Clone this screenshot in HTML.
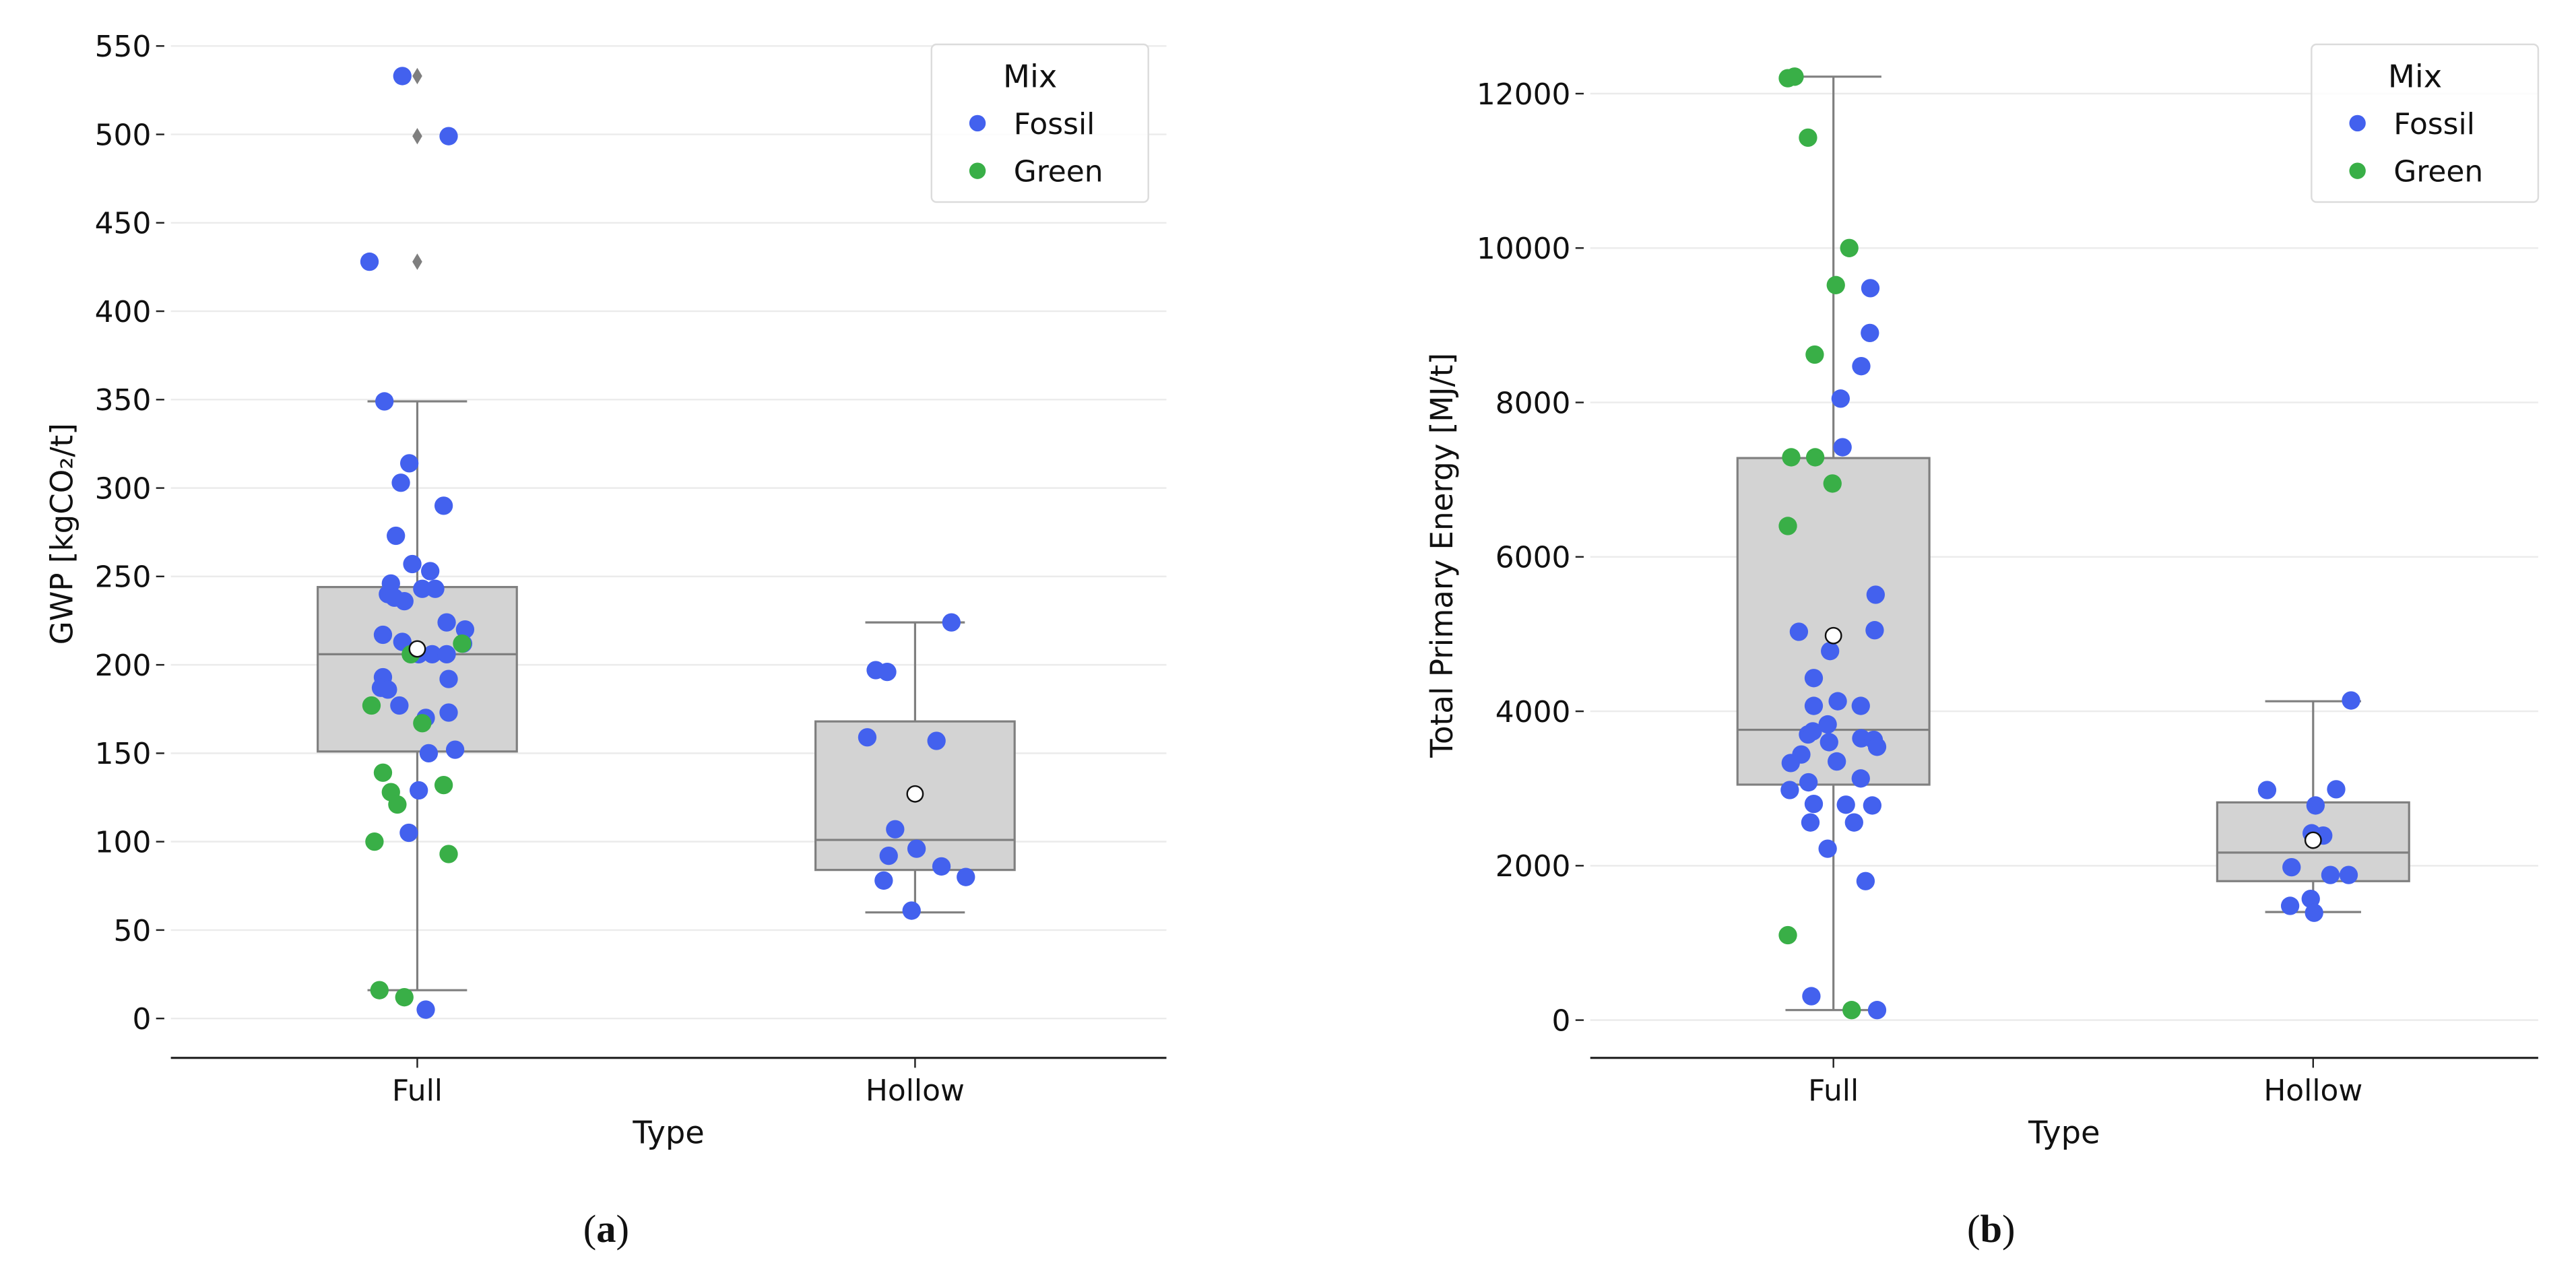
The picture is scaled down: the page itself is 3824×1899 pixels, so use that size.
<!DOCTYPE html>
<html><head><meta charset="utf-8">
<style>
html,body{margin:0;padding:0;background:#fff;}
svg{display:block;}
text{font-family:"DejaVu Sans","Liberation Sans",sans-serif;fill:#111;}
</style></head>
<body>
<svg id="fig" width="3824" height="1899" viewBox="0 0 1568 778.6" preserveAspectRatio="none" xmlns="http://www.w3.org/2000/svg"></svg>
<script>
// ---------- Data ----------
const categories = ["Full", "Hollow"];
// Panel (a) GWP
const gwpTicks = [0,50,100,150,200,250,300,350,400,450,500,550];
const gwpBox = [ {q1:151,q3:244,med:206,lo:16,hi:349,mean:209}, {q1:84,q3:168,med:101,lo:60,hi:224,mean:127} ];
const gwpOutliers = [428,499,533];
const gwpFullFossil = [533,499,428,349,314,303,290,273,257,253,246,240,238,236,243,243,217,220,213,212,224,206,206,206,193,192,187,186,177,173,170,150,152,129,105,5];
const gwpFullFossilJit = [-0.03,0.063,-0.096,-0.066,-0.016,-0.033,0.053,-0.043,-0.01,0.026,-0.053,-0.059,-0.046,-0.026,0.01,0.036,-0.069,0.096,-0.03,0.092,0.059,0.03,0.059,0.003,-0.069,0.063,-0.073,-0.059,-0.036,0.063,0.017,0.023,0.076,0.003,-0.017,0.017];
const gwpFullGreen = [206,212,177,167,139,128,121,132,100,93,16,12];
const gwpFullGreenJit = [-0.013,0.09,-0.092,0.01,-0.069,-0.053,-0.04,0.053,-0.086,0.063,-0.076,-0.026];
const gwpHollowFossil = [197,196,159,157,107,92,96,86,80,78,61,224];
const gwpHollowFossilJit = [-0.079,-0.056,-0.096,0.043,-0.04,-0.053,0.003,0.053,0.102,-0.063,-0.007,0.073];
const gwpHollowGreen = [];
const gwpHollowGreenJit = [];
// Panel (b) Total Primary Energy
const tpeTicks = [0,2000,4000,6000,8000,10000,12000];
const tpeBox = [ {q1:3050,q3:7280,med:3760,lo:130,hi:12220,mean:4980}, {q1:1800,q3:2820,med:2170,lo:1400,hi:4130,mean:2330} ];
const tpeOutliers = [];
const tpeFullGreen = [12200,12220,11430,10000,9520,8620,7290,7290,6950,6400,1100,130];
const tpeFullGreenJit = [-0.095,-0.081,-0.053,0.033,0.005,-0.039,-0.088,-0.038,-0.002,-0.095,-0.095,0.038];
const tpeFullFossil = [9480,8900,8470,8050,7420,5510,5030,5050,4780,4430,4130,4070,4070,3830,3700,3740,3600,3650,3630,3540,3440,3330,3350,3130,3080,2980,2800,2790,2780,2560,2560,2220,1800,310,130];
const tpeFullFossilJit = [0.077,0.076,0.058,0.015,0.019,0.088,-0.072,0.086,-0.007,-0.041,0.009,0.057,-0.041,-0.012,-0.053,-0.043,-0.009,0.058,0.084,0.091,-0.067,-0.089,0.007,0.057,-0.052,-0.091,-0.041,0.026,0.081,-0.048,0.043,-0.012,0.067,-0.046,0.091];
const tpeHollowFossil = [2980,2990,2780,2420,2390,1980,1880,1880,1570,1480,1390,4140];
const tpeHollowFossilJit = [-0.096,0.048,0.005,-0.003,0.021,-0.045,0.036,0.074,-0.005,-0.048,0.002,0.079];
const tpeHollowGreen = [];
const tpeHollowGreenJit = [];

const BLUE="#4361EE", GREEN="#39AF47", GRAY="#7f7f7f";
const NS="http://www.w3.org/2000/svg";
const svg=document.getElementById('fig');
function el(tag,attrs,parent,txt){const e=document.createElementNS(NS,tag);for(const k in attrs)e.setAttribute(k,attrs[k]);if(txt!==undefined)e.textContent=txt;(parent||svg).appendChild(e);return e;}

function panel(cfg){
  const g=el('g',{});
  
  
  const y=v=>cfg.y0+(v-cfg.vmin)*(cfg.y1-cfg.y0)/(cfg.vmax-cfg.vmin);
  const x=i=>cfg.cx0+i*cfg.step;
  cfg.ticks.forEach(t=>{
    const gl=el('line',{x1:cfg.left,x2:cfg.right,y1:y(t),y2:y(t),stroke:'#ebebeb','stroke-width':1},g);
    
    
    el('line',{x1:cfg.left-9,x2:cfg.left-4,y1:y(t),y2:y(t),stroke:'#222','stroke-width':1},g);
    const tl=el('text',{x:cfg.left-12,y:y(t)+6.5,'text-anchor':'end','font-size':18},g,String(t));
    
    
  });
  const ax=el('line',{x1:cfg.left,x2:cfg.right,y1:644,y2:644,stroke:'#222','stroke-width':1.3},g);
  
  
  categories.forEach((c,i)=>{
    el('line',{x1:x(i),x2:x(i),y1:644,y2:650,stroke:'#222','stroke-width':1},g);
    const t=el('text',{x:x(i),y:670,'text-anchor':'middle','font-size':18},g,c);
    
    
  });
  const xt=el('text',{x:(cfg.left+cfg.right)/2,y:696,'text-anchor':'middle','font-size':19},g,'Type');
  
  
  const yt=el('text',{x:0,y:0,'text-anchor':'middle','font-size':18.5,transform:`translate(${cfg.ylabX},${cfg.ylabY}) rotate(-90)`},g,cfg.ylabel);
  
  
  const hw=cfg.step*0.2, cw=cfg.step*0.1;
  cfg.box.forEach((b,i)=>{
    const bg=el('g',{},g);
    
    
    el('line',{x1:x(i),x2:x(i),y1:y(b.hi),y2:y(b.q3),stroke:GRAY,'stroke-width':1.3},bg);
    el('line',{x1:x(i),x2:x(i),y1:y(b.q1),y2:y(b.lo),stroke:GRAY,'stroke-width':1.3},bg);
    el('line',{x1:x(i)-cw,x2:x(i)+cw,y1:y(b.hi),y2:y(b.hi),stroke:GRAY,'stroke-width':1.3},bg);
    el('line',{x1:x(i)-cw,x2:x(i)+cw,y1:y(b.lo),y2:y(b.lo),stroke:GRAY,'stroke-width':1.3},bg);
    el('rect',{x:x(i)-hw,y:y(b.q3),width:2*hw,height:y(b.q1)-y(b.q3),fill:'#d3d3d3',stroke:GRAY,'stroke-width':1.3},bg);
    el('line',{x1:x(i)-hw,x2:x(i)+hw,y1:y(b.med),y2:y(b.med),stroke:GRAY,'stroke-width':1.3},bg);
  });
  cfg.outliers.forEach(v=>{
    const d=el('path',{d:`M${x(0)},${y(v)-5} L${x(0)+3},${y(v)} L${x(0)},${y(v)+5} L${x(0)-3},${y(v)} Z`,fill:GRAY},g);
    
    
  });
  cfg.series.forEach(s=>{
    s.vals.forEach((v,k)=>{
      const p=el('circle',{cx:x(s.cat)+s.jit[k]*cfg.step,cy:y(v),r:5.6,fill:s.color},g);
      
      
    });
  });
  cfg.box.forEach((b,i)=>{
    const m=el('circle',{cx:x(i),cy:y(b.mean),r:4.8,fill:'#fff',stroke:'#111','stroke-width':1},g);
    
    
  });
  const lg=el('g',{},g);
  
  
  const L=cfg.legX;
  el('rect',{x:L,y:27,width:cfg.legW,height:96,rx:3,fill:'#fff','fill-opacity':0.85,stroke:'#dcdcdc'},lg);
  el('text',{x:L+cfg.legW/2-6,y:53,'text-anchor':'middle','font-size':19},lg,'Mix');
  [['Fossil',BLUE,75],['Green',GREEN,104]].forEach(([n,c,yy])=>{
    const e=el('g',{},lg);
    
    
    el('circle',{cx:L+28,cy:yy,r:5,fill:c},e);
    el('text',{x:L+50,y:yy+6.5,'font-size':18},e,n);
  });
  const cap=el('text',{x:cfg.capX,y:756,'text-anchor':'middle','font-size':24,style:'font-family:"Liberation Serif",serif'},g);
  
  
  el('tspan',{},cap,'(');
  el('tspan',{'font-weight':'bold'},cap,cfg.cap);
  el('tspan',{},cap,')');
}

panel({name:'panel-a-gwp',vmin:0,vmax:550,y0:620,y1:28,ticks:gwpTicks,left:104,right:710,cx0:254,step:303,
  box:gwpBox,outliers:gwpOutliers,ylabel:'GWP [kgCO\u2082/t]',ylabX:44,ylabY:325,legX:567,legW:132,capX:369,cap:'a',
  series:[{cat:0,vals:gwpFullFossil,jit:gwpFullFossilJit,color:BLUE,label:'Fossil'},
          {cat:0,vals:gwpFullGreen,jit:gwpFullGreenJit,color:GREEN,label:'Green'},
          {cat:1,vals:gwpHollowFossil,jit:gwpHollowFossilJit,color:BLUE,label:'Fossil'},
          {cat:1,vals:gwpHollowGreen,jit:gwpHollowGreenJit,color:GREEN,label:'Green'}]});
panel({name:'panel-b-energy',vmin:0,vmax:12000,y0:621,y1:57,ticks:tpeTicks,left:968,right:1545,cx0:1116,step:292,
  box:tpeBox,outliers:tpeOutliers,ylabel:'Total Primary Energy [MJ/t]',ylabX:884,ylabY:338,legX:1407,legW:138,capX:1212,cap:'b',
  series:[{cat:0,vals:tpeFullFossil,jit:tpeFullFossilJit,color:BLUE,label:'Fossil'},
          {cat:0,vals:tpeFullGreen,jit:tpeFullGreenJit,color:GREEN,label:'Green'},
          {cat:1,vals:tpeHollowFossil,jit:tpeHollowFossilJit,color:BLUE,label:'Fossil'},
          {cat:1,vals:tpeHollowGreen,jit:tpeHollowGreenJit,color:GREEN,label:'Green'}]});
</script>
</body></html>
